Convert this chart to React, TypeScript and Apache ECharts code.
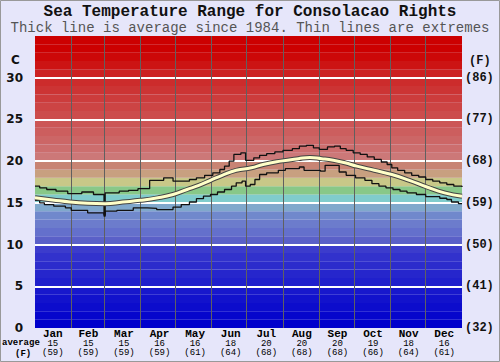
import React, { useEffect, useRef } from "react";
import * as echarts from "echarts";

const MONTHS = ["Jan", "Feb", "Mar", "Apr", "May", "Jun", "Jul", "Aug", "Sep", "Oct", "Nov", "Dec"];
const MONTH_AVG_C = [15, 15, 15, 16, 16, 18, 20, 20, 20, 19, 18, 16];
const MONTH_AVG_F = [59, 59, 59, 59, 61, 64, 68, 68, 68, 66, 64, 61];
const MONTH_STARTS = [31, 59, 90, 120, 151, 181, 212, 243, 273, 304, 334];
const GRID_TEMPS = [5, 10, 15, 20, 25, 30];

// [day of year, °C]
const MAX_LINE: [number, number][] = [
  [0, 17.0], [4, 16.8], [10, 16.6], [18, 16.4], [28, 16.1], [40, 16.3], [50, 16.0], [59, 13.6], [60, 16.2],
  [72, 16.4], [80, 16.5], [88, 16.7], [98, 17.7], [110, 18.0], [118, 17.6], [132, 17.8], [138, 18.0],
  [145, 18.3], [152, 18.6], [158, 19.0], [162, 19.4], [166, 20.0], [170, 20.8], [176, 21.0], [180, 20.1],
  [187, 20.4], [192, 20.7], [198, 20.9], [205, 21.1], [212, 21.3], [220, 21.5], [226, 21.8], [232, 21.9],
  [238, 21.6], [243, 21.4], [250, 21.7], [256, 21.8], [261, 21.5], [266, 21.3], [272, 21.0], [278, 20.8],
  [284, 20.5], [290, 20.2], [296, 19.9], [301, 19.6], [305, 19.2], [310, 18.9], [316, 18.6], [322, 18.3],
  [328, 18.1], [334, 17.8], [340, 17.6], [346, 17.4], [352, 17.2], [358, 17.0], [365, 16.9],
];
const MIN_LINE: [number, number][] = [
  [0, 15.3], [4, 15.0], [8, 14.8], [16, 14.6], [26, 14.4], [31, 14.1], [45, 13.8], [59, 13.4], [60, 14.0],
  [70, 14.1], [84, 14.4], [96, 14.35], [104, 14.2], [118, 14.5], [125, 14.8], [132, 15.1], [138, 15.5],
  [144, 15.8], [150, 16.0], [156, 16.3], [162, 16.6], [168, 17.0], [172, 17.4], [177, 17.6], [180, 17.0],
  [184, 17.2], [188, 17.8], [192, 18.4], [198, 18.6], [208, 18.9], [214, 19.1], [226, 19.3], [230, 18.9],
  [244, 18.8], [248, 19.5], [258, 19.5], [260, 18.7], [266, 18.3], [274, 18.0], [282, 17.7], [288, 17.3],
  [294, 17.0], [300, 16.8], [306, 16.6], [312, 16.4], [318, 16.2], [326, 16.0], [334, 15.75], [346, 15.55],
  [352, 15.4], [356, 15.1], [362, 14.9], [365, 14.85],
];
const AVG_LINE: [number, number][] = [
  [0, 15.6], [15, 15.35], [30, 15.1], [45, 14.95], [60, 14.9], [75, 15.1], [90, 15.3], [105, 15.6],
  [118, 16.0], [130, 16.6], [140, 17.1], [150, 17.7], [160, 18.3], [172, 18.9], [185, 19.2], [195, 19.6],
  [210, 20.0], [225, 20.3], [235, 20.45], [245, 20.3], [255, 20.1], [265, 19.8], [275, 19.4], [290, 18.9],
  [305, 18.4], [320, 17.7], [335, 16.9], [350, 16.2], [365, 15.8],
];

// background colour of each 1°C band, from 0-1 up to 34-35
const BAND_COLORS = [
  "#0000CC", "#0606CC", "#0C0CCC", "#1212CC", "#1818CC",
  "#2020CC", "#2626CC", "#2C2CCC", "#3232CC", "#3C3CCC",
  "#5A60C8", "#6470CC", "#6C7CCC", "#7088CC", "#80A8CC",
  "#80CCCC", "#88C888", "#C8C888", "#C8A080", "#C88474",
  "#CC7878", "#CC6E6E", "#CC6666", "#CC5E5E", "#CC5656",
  "#CC4C4C", "#CC4444", "#CC3C3C", "#CC3434", "#CC2C2C",
  "#CC2222", "#CC1414", "#CC0808", "#CC0000", "#CC0000",
];

const MONO = "'Liberation Mono', 'DejaVu Sans Mono', monospace";

export default function App() {
  const ref = useRef<HTMLDivElement>(null);
  useEffect(() => {
    document.body.style.margin = "0";
    const chart = echarts.init(ref.current!, undefined, { renderer: "svg" });
    chart.setOption({
      animation: false,
      backgroundColor: "#E6E6FA",
      title: [
        {
          text: "Sea Temperature Range for Consolacao Rights",
          left: "center",
          top: 4,
          padding: 0,
          textStyle: { fontFamily: MONO, fontWeight: "bold", fontSize: 16, lineHeight: 16, color: "#111" },
        },
        {
          text: "Thick line is average since 1984. Thin lines are extremes",
          left: "center",
          top: 21,
          padding: 0,
          textStyle: { fontFamily: MONO, fontWeight: "normal", fontSize: 14, lineHeight: 14, color: "#555" },
        },
      ],
      grid: { left: 35, right: 38, top: 36, bottom: 34 },
      xAxis: [
        { type: "value", min: 0, max: 365, show: false },
        {
          type: "category",
          data: MONTHS,
          position: "bottom",
          boundaryGap: true,
          axisLine: { show: false },
          axisTick: { show: false },
          splitLine: { show: false },
          axisLabel: {
            margin: 1,
            interval: 0,
            formatter: (v: string, i: number) => `{m|${v}}\n{v|${MONTH_AVG_C[i]}}\n{f|(${MONTH_AVG_F[i]})}`,
            rich: {
              m: { fontFamily: MONO, fontWeight: "bold", fontSize: 11, lineHeight: 10, color: "#000" },
              v: { fontFamily: MONO, fontSize: 9, lineHeight: 9.5, color: "#000" },
              f: { fontFamily: MONO, fontSize: 9, lineHeight: 9.5, color: "#000" },
            },
          },
        },
      ],
      yAxis: [
        {
          type: "value",
          min: 0,
          max: 35,
          interval: 5,
          position: "left",
          axisLine: { show: false },
          axisTick: { show: false },
          splitLine: { show: false },
          axisLabel: {
            margin: 12,
            formatter: (v: number) => (v >= 35 ? "" : String(v)),
            fontFamily: "'DejaVu Sans', sans-serif",
            fontWeight: "bold",
            fontSize: 12,
            color: "#111",
          },
        },
        {
          type: "value",
          min: 0,
          max: 35,
          interval: 5,
          position: "right",
          axisLine: { show: false },
          axisTick: { show: false },
          splitLine: { show: false },
          axisLabel: {
            margin: 3,
            formatter: (v: number) => (v >= 35 ? "" : `(${Math.round((v * 9) / 5 + 32)})`),
            fontFamily: MONO,
            fontWeight: "bold",
            fontSize: 12,
            color: "#111",
          },
        },
      ],
      graphic: [
        { type: "text", left: 11, top: 54, style: { text: "C", font: "bold 12px 'DejaVu Sans'", fill: "#111" } },
        { type: "text", left: 469, top: 55, style: { text: "(F)", font: `bold 12px ${MONO}`, fill: "#111" } },
        { type: "text", left: 2, top: 338, style: { text: "average", font: `bold 9px ${MONO}`, fill: "#000" } },
        { type: "text", left: 15, top: 349, style: { text: "(F)", font: `bold 9px ${MONO}`, fill: "#000" } },
        {
          type: "rect",
          shape: { x: 0.5, y: 0.5, width: 499, height: 361 },
          style: { fill: "none", stroke: "#999", lineWidth: 1 },
          silent: true,
        },
      ],
      series: [
        {
          type: "line",
          name: "bands",
          xAxisIndex: 0,
          yAxisIndex: 0,
          z: 1,
          data: MAX_LINE,
          symbol: "none",
          lineStyle: { opacity: 0 },
          silent: true,
          markArea: {
            silent: true,
            data: BAND_COLORS.map((c, i) => [
              { yAxis: i, itemStyle: { color: c, opacity: 1 } },
              { yAxis: i + 1 },
            ]),
          },
        },
        {
          type: "line",
          name: "gridlines",
          xAxisIndex: 0,
          yAxisIndex: 0,
          z: 2,
          data: MIN_LINE,
          symbol: "none",
          lineStyle: { opacity: 0 },
          silent: true,
          markLine: {
            silent: true,
            symbol: ["none", "none"],
            label: { show: false },
            data: [
              ...GRID_TEMPS.map((t) => ({ yAxis: t, lineStyle: { color: "#FFFFFF", width: 2, type: "solid", opacity: 1 } })),
              ...MONTH_STARTS.map((d) => ({ xAxis: d, lineStyle: { color: "#606060", width: 1, type: "solid", opacity: 1 } })),
            ],
          },
        },
        {
          type: "line",
          name: "max",
          xAxisIndex: 0,
          yAxisIndex: 0,
          z: 5,
          data: MAX_LINE,
          step: "end",
          symbol: "none",
          lineStyle: { color: "#111", width: 1.3 },
        },
        {
          type: "line",
          name: "min",
          xAxisIndex: 0,
          yAxisIndex: 0,
          z: 5,
          data: MIN_LINE,
          step: "end",
          symbol: "none",
          lineStyle: { color: "#111", width: 1.3 },
        },
        {
          type: "line",
          name: "avgOutline",
          xAxisIndex: 0,
          yAxisIndex: 0,
          z: 6,
          data: AVG_LINE,
          smooth: true,
          symbol: "none",
          lineStyle: { color: "#444", width: 5 },
        },
        {
          type: "line",
          name: "avg",
          xAxisIndex: 0,
          yAxisIndex: 0,
          z: 7,
          data: AVG_LINE,
          smooth: true,
          symbol: "none",
          lineStyle: { color: "#FFFFC8", width: 3 },
        },
      ],
    });
    return () => chart.dispose();
  }, []);
  return <div ref={ref} style={{ width: 500, height: 362 }} />;
}
